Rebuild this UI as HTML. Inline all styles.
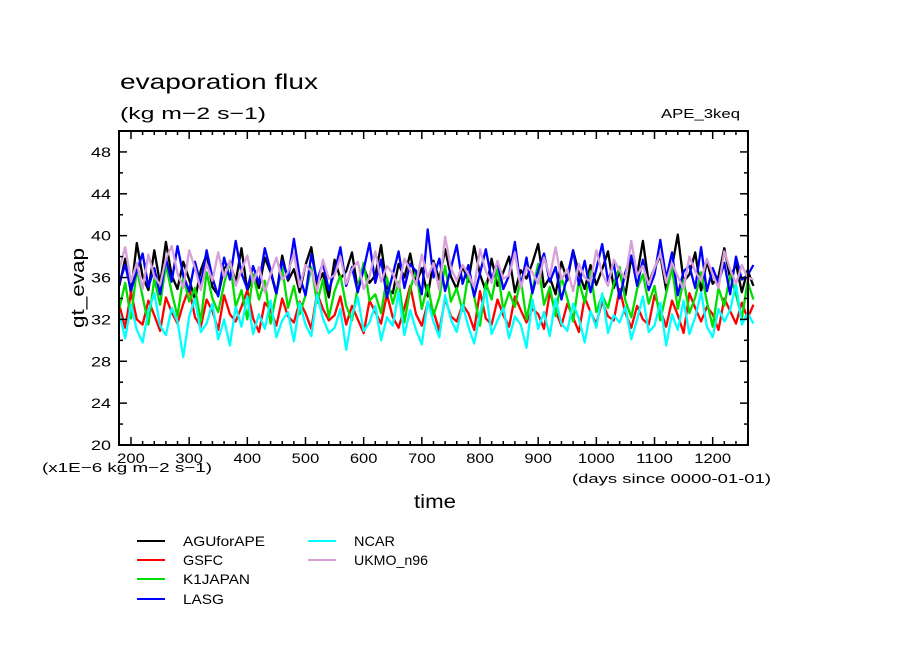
<!DOCTYPE html>
<html><head><meta charset="utf-8"><style>
body{margin:0;background:#fff;}
svg{display:block;font-family:"Liberation Sans",sans-serif;}
</style></head><body>
<svg id="chart" width="904" height="654" viewBox="0 0 904 654" xmlns="http://www.w3.org/2000/svg">
<rect width="904" height="654" fill="#fff"/>
<text x="120" y="89" font-size="21" textLength="198" lengthAdjust="spacingAndGlyphs">evaporation flux</text>
<text x="120" y="119" font-size="17" textLength="146" lengthAdjust="spacingAndGlyphs">(kg m−2 s−1)</text>
<text x="661" y="118" font-size="13" textLength="79" lengthAdjust="spacingAndGlyphs">APE_3keq</text>
<text transform="translate(84,288) rotate(-90)" font-size="18" text-anchor="middle" textLength="80" lengthAdjust="spacingAndGlyphs">gt_evap</text>
<text x="414" y="508" font-size="19" textLength="42" lengthAdjust="spacingAndGlyphs">time</text>
<text x="42" y="472" font-size="13" textLength="170" lengthAdjust="spacingAndGlyphs">(x1E−6 kg m−2 s−1)</text>
<text x="572" y="483" font-size="13" textLength="199" lengthAdjust="spacingAndGlyphs">(days since 0000-01-01)</text>
<g id="series"></g>
<g id="axes"></g>
<g id="legend"></g>
</svg>
<script>
const yTicks=[20,24,28,32,36,40,44,48];
const xTicks=[200,300,400,500,600,700,800,900,1000,1100,1200];
const seriesNames=["AGUforAPE","GSFC","K1JAPAN","LASG","NCAR","UKMO_n96"];
const dayStart=180, dayStep=10;
const agu=[35.2,37.8,34.5,39.3,36.1,34.8,38.6,35.4,39.4,36.2,34.9,37.5,35.8,33.9,36.7,38.2,35.1,34.3,36.9,37.4,35.6,38.8,34.7,36.3,35.0,37.9,36.5,34.4,38.1,35.7,36.8,34.6,37.2,38.9,35.3,36.4,34.1,37.7,35.9,36.6,38.4,34.8,37.0,35.5,36.2,39.1,35.0,34.5,37.3,36.0,38.3,35.4,36.9,34.2,37.6,35.8,38.7,36.1,34.9,37.1,35.6,39.0,36.3,34.7,37.8,35.2,36.5,38.0,34.6,36.7,35.9,37.4,39.2,35.1,36.0,34.4,37.5,35.7,38.6,36.4,34.9,37.2,35.3,36.8,38.5,35.0,36.6,34.3,37.9,36.2,39.5,35.5,36.9,38.1,34.8,37.0,40.1,35.6,36.3,38.4,34.7,37.6,35.4,36.1,38.8,35.9,37.3,34.6,36.7,35.2];
const gsfc=[33.4,31.2,34.6,32.0,31.5,33.8,32.4,30.9,34.1,32.7,31.6,33.5,35.0,32.2,31.3,33.9,32.8,31.0,34.3,32.5,31.8,33.2,34.8,32.1,30.8,33.6,32.9,31.4,34.0,32.3,31.7,33.7,32.6,31.1,34.5,33.0,31.9,32.4,34.2,31.5,33.3,32.0,30.7,33.8,32.7,31.6,34.4,32.2,31.2,33.1,35.2,32.5,31.4,33.6,32.8,30.9,34.0,32.3,31.8,33.4,32.6,31.0,34.7,32.1,31.5,33.9,32.4,31.3,34.2,32.9,31.7,33.0,32.5,31.1,34.6,32.8,31.4,33.5,32.2,30.8,34.1,32.7,31.6,33.7,32.3,31.9,34.9,32.6,31.2,33.3,32.0,31.5,34.3,32.9,31.3,33.8,32.4,30.7,34.5,33.1,31.8,33.2,32.5,31.0,34.0,32.8,31.6,33.6,32.1,33.4];
const k1=[33.0,35.5,32.1,36.8,34.2,31.5,35.9,33.4,37.2,34.6,32.3,36.1,33.7,35.0,31.8,36.5,34.0,32.7,35.4,37.6,33.2,34.8,32.0,36.3,33.9,35.7,31.6,34.5,36.9,33.1,35.2,32.5,34.3,37.0,33.6,35.8,32.2,34.7,36.2,33.3,31.9,35.1,37.4,33.8,34.4,32.6,36.0,33.5,35.6,31.7,34.9,36.7,33.0,35.3,32.4,34.1,37.1,33.7,35.0,32.8,36.4,34.2,31.4,35.5,33.9,36.8,32.9,34.6,33.2,35.9,32.0,34.8,37.3,33.4,35.1,32.3,36.1,34.0,31.8,35.7,33.6,36.6,32.7,34.3,33.1,35.4,37.0,33.8,32.2,34.9,36.3,33.5,35.2,31.9,34.5,36.9,33.0,35.8,32.6,34.1,36.5,33.7,31.3,35.0,33.3,36.2,34.4,32.1,35.6,33.9];
const lasg=[35.5,37.2,34.8,36.6,38.3,35.1,36.9,34.4,37.8,35.6,39.0,36.2,34.7,37.5,35.3,38.6,36.0,34.2,37.9,35.8,39.5,36.4,34.9,37.1,35.4,38.8,36.7,34.5,37.6,35.9,39.7,36.1,34.3,38.2,35.7,37.4,34.8,36.5,38.9,35.2,37.0,34.6,36.8,39.3,35.5,37.7,34.1,36.3,38.5,35.0,37.3,36.6,34.4,40.6,36.0,37.8,34.7,36.9,39.1,35.4,37.2,34.2,36.4,38.7,35.8,37.5,34.9,36.2,39.4,35.1,37.9,34.5,36.7,38.3,35.6,37.0,33.9,36.1,38.6,35.3,37.6,34.6,36.8,39.2,35.7,37.3,34.0,36.5,38.1,35.2,37.7,34.8,36.3,39.6,35.9,38.4,34.3,36.6,37.1,35.0,38.9,34.7,36.9,35.5,37.4,34.4,38.0,35.8,36.2,37.2];
const ncar=[32.6,30.2,33.4,31.0,29.8,32.8,34.5,31.4,30.5,33.1,31.8,28.4,32.3,34.0,30.8,31.6,33.5,30.1,32.0,29.5,33.2,31.3,34.2,30.6,32.5,31.1,33.8,30.3,31.9,32.7,29.9,33.6,31.5,30.4,34.4,32.1,30.7,31.2,33.0,29.1,32.4,34.1,30.9,31.7,33.3,30.0,32.2,31.4,34.6,30.5,32.9,31.0,29.6,33.7,31.8,30.3,34.3,32.0,30.8,33.4,31.3,29.7,32.6,34.8,30.6,31.9,33.1,30.2,32.3,31.5,29.3,33.9,31.1,32.7,30.4,34.0,31.6,30.9,33.5,32.1,29.8,32.8,31.2,34.5,30.7,32.4,31.7,33.2,30.1,32.0,34.2,30.8,31.4,33.6,29.5,32.5,31.0,33.8,30.6,32.2,34.6,31.3,30.3,33.0,31.8,32.9,35.4,31.5,32.6,31.6];
const ukmo=[36.8,38.9,35.6,37.4,34.9,38.2,36.1,35.3,37.8,39.0,36.4,35.0,38.6,36.9,34.8,37.3,35.7,38.4,36.0,37.6,35.2,36.7,38.1,35.5,37.0,34.6,36.3,37.9,35.8,36.5,38.3,35.1,37.2,36.6,34.7,37.7,35.9,36.2,38.0,35.4,36.8,37.5,34.9,36.1,38.5,35.6,37.1,36.4,35.0,37.8,36.7,35.3,38.2,36.0,37.4,34.8,39.9,36.9,35.7,37.2,36.3,35.1,38.7,36.6,35.5,37.6,35.9,36.2,38.4,35.0,37.0,36.5,35.4,37.9,36.1,38.9,35.8,36.8,34.7,37.3,36.0,35.6,38.6,36.4,35.2,37.7,36.7,35.9,39.5,36.2,37.1,35.3,36.9,38.3,35.5,37.4,36.1,34.9,38.0,36.6,35.7,37.8,36.3,35.0,38.5,36.8,35.4,37.2,36.0,35.8];
const seriesValues=[agu,gsfc,k1,lasg,ncar,ukmo];
const seriesColors=["#000000","#ff0000","#00dd00","#0000ff","#00ffff","#d8a0d8"];

const L=119,R=748,T=131,B=445;
const xMin=179.4,xMax=1260.7,yMin=20,yMax=50;
const X=d=>L+(d-xMin)/(xMax-xMin)*(R-L);
const Y=v=>B-(v-yMin)/(yMax-yMin)*(B-T);
const NS="http://www.w3.org/2000/svg";
function mk(tag,attrs,parent){const e=document.createElementNS(NS,tag);for(const k in attrs)e.setAttribute(k,attrs[k]);parent.appendChild(e);return e;}

const sg=document.getElementById('series');
seriesValues.forEach((vals,s)=>{
  const pts=vals.map((v,i)=>X(dayStart+i*dayStep).toFixed(1)+","+Y(v).toFixed(1)).join(" ");
  const pl=mk('polyline',{points:pts,fill:'none',stroke:seriesColors[s],'stroke-width':2.3,'stroke-linejoin':'round'},sg);
  
  
});

const ax=document.getElementById('axes');
const frame=mk('rect',{x:L,y:T,width:R-L,height:B-T,fill:'none',stroke:'#000','stroke-width':2},ax);


for(let d=200;d<=1260;d+=20){
  const maj=d%100===0, len=maj?8:4, x=X(d);
  mk('line',{x1:x,y1:B,x2:x,y2:B-len,stroke:'#000','stroke-width':1.5},ax);
  mk('line',{x1:x,y1:T,x2:x,y2:T+len,stroke:'#000','stroke-width':1.5},ax);
}
for(let v=22;v<50;v+=2){
  const maj=v%4===0, len=maj?8:4, y=Y(v);
  mk('line',{x1:L,y1:y,x2:L+len,y2:y,stroke:'#000','stroke-width':1.5},ax);
  mk('line',{x1:R,y1:y,x2:R-len,y2:y,stroke:'#000','stroke-width':1.5},ax);
}
xTicks.forEach(d=>{
  const s=String(d);
  const w=s.length*9.2;
  const t=mk('text',{x:X(d)-w/2,y:463,'font-size':14,textLength:w,lengthAdjust:'spacingAndGlyphs'},ax);
  t.textContent=s;
  
  
});
yTicks.forEach(v=>{
  const t=mk('text',{x:91,y:Y(v)+5,'font-size':14,textLength:20,lengthAdjust:'spacingAndGlyphs'},ax);
  t.textContent=v;
  
  
});

const lg=document.getElementById('legend');
const pos=[[137,541],[137,560],[137,579],[137,599],[308,541],[308,560]];
const lw=[82,40,67,41,41,74];
seriesNames.forEach((n,i)=>{
  const g=mk('g',{},lg);
  
  
  const [x,y]=pos[i];
  mk('line',{x1:x,y1:y,x2:x+28,y2:y,stroke:seriesColors[i],'stroke-width':2},g);
  const t=mk('text',{x:x+46,y:y+5,'font-size':14,textLength:lw[i],lengthAdjust:'spacingAndGlyphs'},g);
  t.textContent=n;
});
</script>
</body></html>
